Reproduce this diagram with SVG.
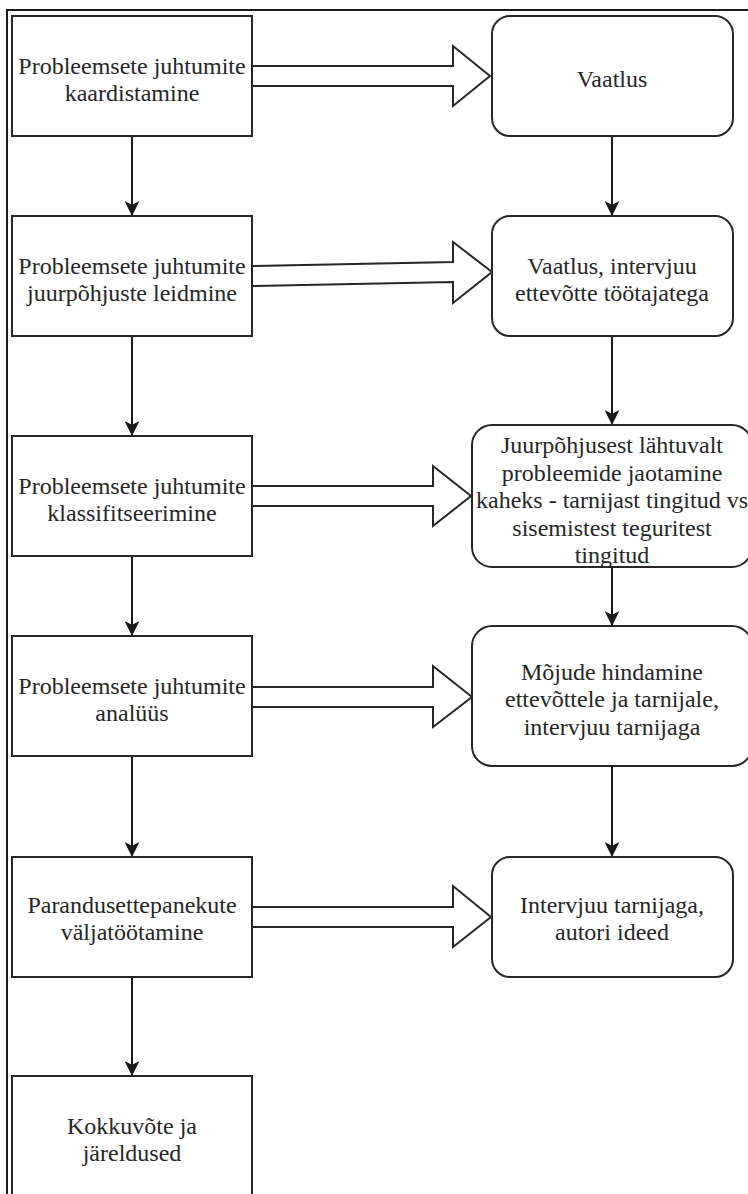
<svg xmlns="http://www.w3.org/2000/svg" width="748" height="1194" viewBox="0 0 748 1194">
<style>
.frame{fill:none;stroke:#1a1a1a;stroke-width:2}
.box{fill:#ffffff;stroke:#262626;stroke-width:2}
.t{font-family:"Liberation Serif","Times New Roman",serif;font-size:24px;fill:#262626;text-anchor:middle}
.conn{stroke:#1a1a1a;stroke-width:2;fill:none}
.block{fill:#ffffff;stroke:#262626;stroke-width:2;stroke-linejoin:miter}
</style>
<defs>
<marker id="arr" markerUnits="userSpaceOnUse" viewBox="0 0 16 16" refX="16" refY="8" markerWidth="16" markerHeight="15" orient="auto">
<path d="M0,0 L16,8 L0,16 L4,8 Z" fill="#1a1a1a"/>
</marker>
</defs>
<rect x="0" y="0" width="748" height="1194" fill="#ffffff"/>
<rect class="frame" x="7" y="10" width="760" height="1200"/>

<g id="connectors">
<line class="conn" x1="132" y1="136" x2="132" y2="216" marker-end="url(#arr)"/>
<line class="conn" x1="132" y1="336" x2="132" y2="436" marker-end="url(#arr)"/>
<line class="conn" x1="132" y1="556" x2="132" y2="636" marker-end="url(#arr)"/>
<line class="conn" x1="132" y1="756" x2="132" y2="857" marker-end="url(#arr)"/>
<line class="conn" x1="132" y1="977" x2="132" y2="1076" marker-end="url(#arr)"/>
<line class="conn" x1="612" y1="136" x2="612" y2="216" marker-end="url(#arr)"/>
<line class="conn" x1="612" y1="336" x2="612" y2="425" marker-end="url(#arr)"/>
<line class="conn" x1="612" y1="567" x2="612" y2="626" marker-end="url(#arr)"/>
<line class="conn" x1="612" y1="766" x2="612" y2="857" marker-end="url(#arr)"/>
<polygon class="block" points="252,66 453,66 453,46 490,76 453,106 453,86 252,86"/>
<polygon class="block" points="252,266 453,262 453,242 492,272 453,303 453,282 252,286"/>
<polygon class="block" points="252,486 433,486 433,466 471,496 433,526 433,506 252,506"/>
<polygon class="block" points="252,687 433,687 433,666 472,697 433,727 433,707 252,707"/>
<polygon class="block" points="252,907 453,907 453,886 491,917 453,947 453,927 252,927"/>
</g>

<g id="n1">
<rect class="box" x="12" y="16" width="240" height="120"/>
<text class="t" x="132" y="74">Probleemsete juhtumite</text>
<text class="t" x="132" y="101">kaardistamine</text>
</g>
<g id="n2">
<rect class="box" x="12" y="216" width="240" height="120"/>
<text class="t" x="132" y="274">Probleemsete juhtumite</text>
<text class="t" x="132" y="301">juurpõhjuste leidmine</text>
</g>
<g id="n3">
<rect class="box" x="12" y="436" width="240" height="120"/>
<text class="t" x="132" y="494">Probleemsete juhtumite</text>
<text class="t" x="132" y="521">klassifitseerimine</text>
</g>
<g id="n4">
<rect class="box" x="12" y="636" width="240" height="120"/>
<text class="t" x="132" y="694">Probleemsete juhtumite</text>
<text class="t" x="132" y="721">analüüs</text>
</g>
<g id="n5">
<rect class="box" x="12" y="857" width="240" height="120"/>
<text class="t" x="132" y="913">Parandusettepanekute</text>
<text class="t" x="132" y="940">väljatöötamine</text>
</g>
<g id="n6">
<rect class="box" x="12" y="1076" width="240" height="130"/>
<text class="t" x="132" y="1134">Kokkuvõte ja</text>
<text class="t" x="132" y="1161">järeldused</text>
</g>

<g id="r1">
<rect class="box" x="492" y="16" width="241" height="120" rx="18" ry="18"/>
<text class="t" x="612" y="87">Vaatlus</text>
</g>
<g id="r2">
<rect class="box" x="492" y="216" width="241" height="120" rx="18" ry="18"/>
<text class="t" x="612" y="274">Vaatlus, intervjuu</text>
<text class="t" x="612" y="301">ettevõtte töötajatega</text>
</g>
<g id="r3">
<rect class="box" x="472" y="425" width="280" height="142" rx="20" ry="20"/>
<text class="t" x="612" y="453">Juurpõhjusest lähtuvalt</text>
<text class="t" x="612" y="481">probleemide jaotamine</text>
<text class="t" x="612" y="508">kaheks - tarnijast tingitud vs</text>
<text class="t" x="612" y="536">sisemistest teguritest</text>
<text class="t" x="612" y="563">tingitud</text>
</g>
<g id="r4">
<rect class="box" x="472" y="626" width="280" height="140" rx="20" ry="20"/>
<text class="t" x="612" y="680">Mõjude hindamine</text>
<text class="t" x="612" y="707">ettevõttele ja tarnijale,</text>
<text class="t" x="612" y="735">intervjuu tarnijaga</text>
</g>
<g id="r5">
<rect class="box" x="492" y="857" width="241" height="120" rx="18" ry="18"/>
<text class="t" x="612" y="913">Intervjuu tarnijaga,</text>
<text class="t" x="612" y="940">autori ideed</text>
</g>
</svg>
